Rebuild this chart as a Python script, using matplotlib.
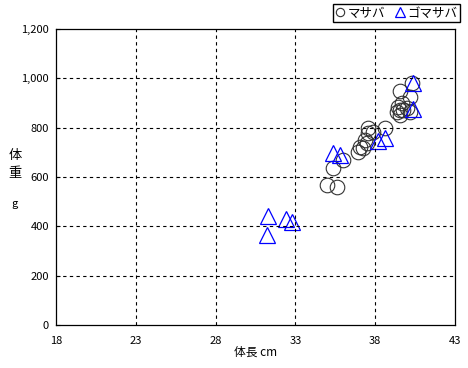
import matplotlib
matplotlib.use("Agg")
import matplotlib.pyplot as plt
from matplotlib.ticker import FuncFormatter
from matplotlib.lines import Line2D

plt.rcParams['font.family'] = ['Noto Sans CJK JP', 'DejaVu Sans']

# マサバ (体長 cm, 体重 g)
masaba_len = [34.96, 35.59, 35.37, 36.0, 36.94, 37.25, 37.47, 37.55, 37.57, 38.61,
              37.86, 37.36, 37.05, 39.55, 40.29, 39.43, 39.55, 39.74, 39.97, 39.35,
              40.18, 39.66, 40.18, 39.55]
masaba_wt = [567, 558, 635, 669, 702, 716, 738, 778, 797, 797,
             784, 750, 723, 950, 980, 885, 872, 872, 878, 865,
             865, 899, 925, 851]

# ゴマサバ
goma_len = [31.30, 31.24, 32.41, 32.81, 35.37, 35.79, 38.19, 38.61, 40.39, 40.39]
goma_wt = [442, 365, 431, 418, 699, 691, 747, 757, 983, 875]

x_ticks = [18, 23, 28, 33, 38, 43]
y_ticks = [0, 200, 400, 600, 800, 1000, 1200]

fig = plt.figure(figsize=(4.68, 3.68), dpi=100)
ax = fig.add_axes([56 / 468, 1 - 325 / 368, (455 - 56) / 468, (325 - 29) / 368])

ax.plot(masaba_len, masaba_wt, linestyle='none', marker='o', markersize=10.5,
        markerfacecolor='none', markeredgecolor='#333333', markeredgewidth=0.8)
ax.plot(goma_len, goma_wt, linestyle='none', marker='^', markersize=12,
        markerfacecolor='none', markeredgecolor='#0000ff', markeredgewidth=0.9)

ax.set_xlim(18, 43)
ax.set_ylim(0, 1200)
ax.set_xticks(x_ticks)
ax.set_yticks(y_ticks)
ax.yaxis.set_major_formatter(FuncFormatter(lambda v, p: f"{int(v):,}"))
ax.tick_params(axis='both', direction='in', length=3, width=0.8, labelsize=8, pad=5)
ax.tick_params(axis='x', length=0, pad=8)

for v in x_ticks[1:-1]:
    ax.axvline(v, color='black', linestyle=(0, (3, 3)), linewidth=0.8)
for v in y_ticks[1:-1]:
    ax.axhline(v, color='black', linestyle=(0, (3, 3)), linewidth=0.8)

for s in ax.spines.values():
    s.set_linewidth(0.9)

ax.set_xlabel("体長 cm", fontsize=8.5, labelpad=0)
# 縦書きの軸ラベル
fig.text(15 / 468, 1 - 156 / 368, "体", fontsize=9.5, ha='center', va='center')
fig.text(15 / 468, 1 - 174 / 368, "重", fontsize=9.5, ha='center', va='center')
fig.text(15 / 468, 1 - 204 / 368, "g", fontsize=8, ha='center', va='center')

handles = [
    Line2D([], [], linestyle='none', marker='o', markersize=6, markerfacecolor='none',
           markeredgecolor='#333333', markeredgewidth=0.8),
    Line2D([], [], linestyle='none', marker='^', markersize=7, markerfacecolor='none',
           markeredgecolor='#0000ff', markeredgewidth=0.9),
]
fig.legend(handles, ["マサバ", "ゴマサバ"], loc='upper right',
           bbox_to_anchor=(460 / 468, 1 - 4 / 368), ncol=2, fontsize=9,
           frameon=True, fancybox=False, edgecolor='black', framealpha=1,
           handlelength=0.8, handletextpad=0.2, columnspacing=0.8,
           borderpad=0.2, borderaxespad=0)

fig.savefig("out.png", dpi=100)
